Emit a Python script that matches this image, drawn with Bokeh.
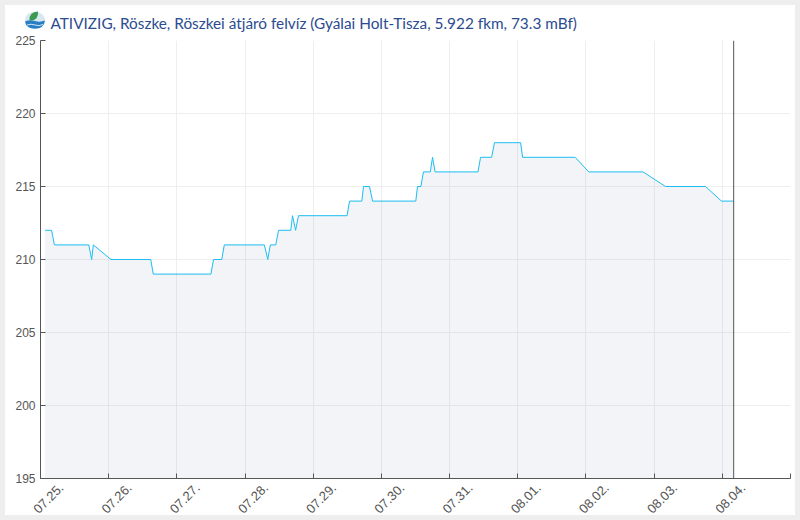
import math
from urllib.parse import quote
from bokeh.plotting import figure
from bokeh.embed import file_html
from bokeh.resources import INLINE
from bokeh.models import Span, FixedTicker, ColumnDataSource, LinearAxis, Range1d

title_text = "ATIVIZIG, Röszke, Röszkei átjáró felvíz (Gyálai Holt-Tisza, 5.922 fkm, 73.3 mBf)"
hours = [1.6, 3.9, 4.9, 17, 18, 18.6, 24.8, 38.8, 39.7, 60, 60.9, 63.8, 64.7, 78.8, 80, 80.9,
         82.8, 83.8, 88.1, 88.7, 89.8, 90.8, 107.9, 108.8, 113.1, 113.7, 115.8, 116.9, 132.1,
         132.7, 133.9, 134.8, 137.2, 138, 138.9, 154, 154.9, 158.8, 159.8, 169, 169.7, 188.2,
         193, 212.1, 220, 234.1, 239.7, 243.9]
levels = [212, 212, 211, 211, 210, 211, 210, 210, 209, 209, 210, 210, 211, 211, 210, 211,
          211, 212, 212, 213, 212, 213, 213, 214, 214, 215, 215, 214, 214,
          215, 215, 216, 216, 217, 216, 216, 217, 217, 218, 218, 217, 217,
          216, 216, 215, 215, 214, 214]
tick_hours = [0, 24, 48, 72, 96, 120, 144, 168, 192, 216, 240, 264]
tick_labels = ["07.25.", "07.26.", "07.27.", "07.28.", "07.29.", "07.30.", "07.31.",
               "08.01.", "08.02.", "08.03.", "08.04."]
y_ticks = [195, 200, 205, 210, 215, 220, 225]
now_hour = 244

icon = ('<svg xmlns="http://www.w3.org/2000/svg" viewBox="0 0 20 18">'
        '<ellipse cx="10" cy="9" rx="10" ry="8.6" fill="#d8e8f0"/>'
        '<path d="M0 10.5 Q5 8.5 10 10 T20 9.5 Q19 17.6 10 17.8 Q1 17.6 0 10.5Z" fill="#2a7fc4"/>'
        '<path d="M2 14 Q6 12.5 10 14 T18 13.5" stroke="#ffffff" stroke-width="0.8" fill="none"/>'
        '<path d="M4.5 9 Q4 1.5 13 0.6 Q13.5 9 6.5 9.5Z" fill="#3a9a52"/></svg>')

p = figure(width=800, height=520, x_range=(0, 264), y_range=(195, 225),
           output_backend="svg", toolbar_location=None,
           min_border_left=40, min_border_right=10, min_border_top=40, min_border_bottom=40,
           background_fill_color="#ffffff", border_fill_color=None)
p.stylesheets = [":host{background:#ffffff;box-shadow:inset 0 0 0 5px #eeeeee;}"
                 ":host::before{content:'';position:absolute;z-index:5;left:25px;top:11px;width:20px;height:18px;"
                 "background:url(\"data:image/svg+xml," + quote(icon) + "\") no-repeat;}"]
p.outline_line_color = None

p.title.text = title_text
p.title.text_font = "Lato"
p.title.text_font_size = "15.35px"
p.title.text_font_style = "normal"
p.title.text_color = "#2b4c8f"
p.title.text_baseline = "bottom"
p.title.offset = 10
p.title.standoff = 18

src = ColumnDataSource(dict(x=hours, y=levels, base=[195] * len(levels)))
p.varea(x="x", y1="base", y2="y", source=src, fill_color="#45629b", fill_alpha=0.07)
p.line(x="x", y="y", source=src, line_color="#1cbdf0", line_width=1)
p.add_layout(Span(location=now_hour, dimension="height", line_color="#555555", line_width=1))

for ax in (p.xaxis[0], p.yaxis[0]):
    ax.axis_line_color = "#555555"
    ax.major_tick_line_color = "#555555"
    ax.major_tick_in = 5
    ax.major_tick_out = 0
    ax.minor_tick_line_color = None
    ax.major_label_text_color = "#555555"
    ax.major_label_text_font = "Liberation Sans"
    ax.major_label_text_font_size = "12px"
p.xaxis[0].ticker = FixedTicker(ticks=tick_hours)
p.xaxis[0].major_label_overrides = {t: "" for t in tick_hours}
p.xaxis[0].major_label_standoff = 0
p.yaxis[0].ticker = FixedTicker(ticks=y_ticks)
p.yaxis[0].major_label_standoff = 5

# labels sit to the right of their ticks, as in the reference: a second axis on a shifted range
p.extra_x_ranges["labels"] = Range1d(-7.3, 256.7)
lab_axis = LinearAxis(x_range_name="labels", ticker=FixedTicker(ticks=tick_hours[:len(tick_labels)]),
                      major_label_overrides=dict(zip(tick_hours, tick_labels)),
                      major_label_orientation=math.pi / 4, major_label_standoff=7,
                      axis_line_color=None, major_tick_line_color=None, minor_tick_line_color=None,
                      major_tick_in=0, major_tick_out=0,
                      major_label_text_color="#555555", major_label_text_font="Liberation Sans",
                      major_label_text_font_size="13px")
p.add_layout(lab_axis, "below")

p.xgrid[0].ticker = p.xaxis[0].ticker
p.xgrid.grid_line_color = "#eeeeee"
p.ygrid.grid_line_color = "#eeeeee"

open("out.html", "w").write(file_html(p, INLINE))
